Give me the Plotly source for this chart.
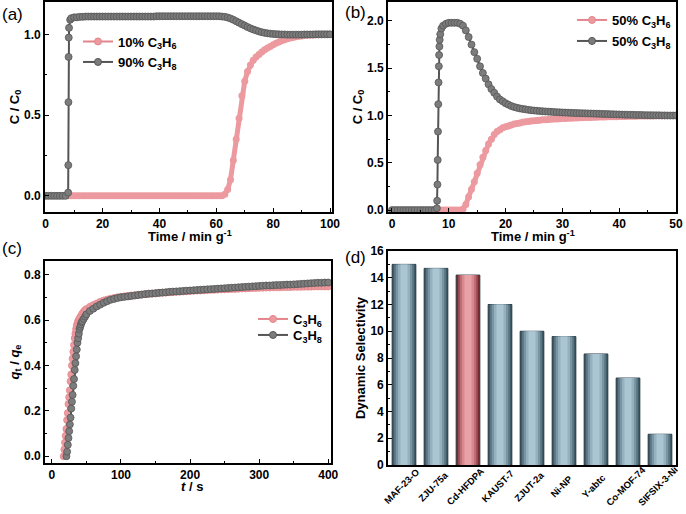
import plotly.graph_objects as go
from plotly.subplots import make_subplots

# ---- (a) breakthrough, 10/90 C3H6/C3H8 ----
a_time_c3h6 = [8, 9, 10, 11, 12, 13, 14, 15, 16, 17,
               18, 19, 20, 21, 22, 23, 24, 25, 26, 27,
               28, 29, 30, 31, 32, 33, 34, 35, 36, 37,
               38, 39, 40, 41, 42, 43, 44, 45, 46, 47,
               48, 49, 50, 51, 52, 53, 54, 55, 56, 57,
               58, 59, 60, 61, 62, 63, 64, 65, 66, 67,
               68, 69, 70, 71, 72, 73, 74, 75, 76, 77,
               78, 79, 80, 81, 82, 83, 84, 85, 86, 87,
               88, 89, 90, 91, 92, 93, 94, 95, 96, 97,
               98, 99, 100]
a_c3h6 = [0, 0, 0, 0, 0, 0, 0, 0, 0, 0,
          0, 0, 0, 0, 0, 0, 0, 0, 0, 0,
          0, 0, 0, 0, 0, 0, 0, 0, 0, 0,
          0, 0, 0, 0, 0, 0, 0, 0, 0, 0,
          0, 0, 0, 0, 0, 0, 0, 0, 0, 0,
          0, 0, 0, 0, 0, 0.01, 0.04, 0.10, 0.22, 0.35,
          0.48, 0.62, 0.71, 0.77, 0.81, 0.84, 0.86, 0.875, 0.89, 0.905,
          0.915, 0.925, 0.935, 0.945, 0.953, 0.96, 0.966, 0.972, 0.977, 0.981,
          0.985, 0.988, 0.99, 0.992, 0.994, 0.995, 0.996, 0.997, 0.998, 0.998,
          0.999, 0.999, 1.0]

a_time_c3h8 = [0, 1, 2, 3, 4, 5, 6, 7,
               7.9, 7.95, 8.0, 8.05, 8.1, 8.2, 8.6,
               9, 10, 11, 12, 13, 14, 15, 16, 17, 18,
               19, 20, 21, 22, 23, 24, 25, 26, 27, 28,
               29, 30, 31, 32, 33, 34, 35, 36, 37, 38,
               39, 40, 41, 42, 43, 44, 45, 46, 47, 48,
               49, 50, 51, 52, 53, 54, 55, 56, 57, 58,
               59, 60, 61, 62, 63, 64, 65, 66, 67, 68,
               69, 70, 71, 72, 73, 74, 75, 76, 77, 78,
               79, 80, 81, 82, 83, 84, 85, 86, 87, 88,
               89, 90, 91, 92, 93, 94, 95, 96, 97, 98,
               99, 100]
a_c3h8 = [0, 0, 0, 0, 0, 0, 0, 0,
          0.02, 0.19, 0.58, 0.86, 0.98, 1.04, 1.09,
          1.10, 1.105, 1.105, 1.108, 1.108, 1.11, 1.11, 1.11, 1.11, 1.11,
          1.11, 1.11, 1.11, 1.11, 1.11, 1.11, 1.11, 1.11, 1.11, 1.11,
          1.11, 1.11, 1.11, 1.11, 1.11, 1.11, 1.11, 1.11, 1.11, 1.11,
          1.112, 1.112, 1.112, 1.112, 1.112, 1.112, 1.112, 1.112, 1.112, 1.112,
          1.112, 1.112, 1.112, 1.112, 1.112, 1.112, 1.112, 1.112, 1.112, 1.112,
          1.112, 1.112, 1.112, 1.11, 1.108, 1.104, 1.098, 1.09, 1.081, 1.072,
          1.063, 1.054, 1.045, 1.037, 1.03, 1.024, 1.018, 1.013, 1.009, 1.006,
          1.004, 1.002, 1.001, 1.0, 0.999, 0.999, 0.998, 0.998, 0.998, 0.998,
          0.998, 0.998, 0.999, 0.999, 0.999, 0.999, 1.0, 1.0, 1.0, 1.0,
          1.0, 1.0]

# ---- (b) breakthrough, 50/50 ----
b_time_c3h6 = [8.5, 9, 9.5, 10, 10.5, 11, 11.5, 12, 12.5, 13,
               13.5, 14, 14.5, 15, 15.5, 16, 16.5, 17, 17.5, 18,
               18.5, 19, 19.5, 20, 20.5, 21, 21.5, 22, 22.5, 23,
               23.5, 24, 24.5, 25, 25.5, 26, 26.5, 27, 27.5, 28,
               28.5, 29, 29.5, 30, 30.5, 31, 31.5, 32, 32.5, 33,
               33.5, 34, 34.5, 35, 35.5, 36, 36.5, 37, 37.5, 38,
               38.5, 39, 39.5, 40, 40.5, 41, 41.5, 42, 42.5, 43,
               43.5, 44, 44.5, 45, 45.5, 46, 46.5, 47, 47.5, 48,
               48.5, 49, 49.5, 50]
b_c3h6 = [0, 0, 0, 0, 0, 0, 0, 0, 0.01, 0.06,
          0.14, 0.22, 0.30, 0.39, 0.48, 0.56, 0.63, 0.70, 0.75, 0.80,
          0.83, 0.85, 0.87, 0.88, 0.89, 0.90, 0.91, 0.915, 0.922, 0.928,
          0.933, 0.937, 0.941, 0.945, 0.948, 0.951, 0.954, 0.956, 0.958, 0.96,
          0.962, 0.964, 0.966, 0.968, 0.969, 0.971, 0.972, 0.974, 0.975, 0.976,
          0.977, 0.978, 0.979, 0.98, 0.981, 0.982, 0.983, 0.984, 0.985, 0.986,
          0.987, 0.987, 0.988, 0.989, 0.99, 0.99, 0.991, 0.992, 0.992, 0.993,
          0.994, 0.994, 0.995, 0.995, 0.996, 0.996, 0.997, 0.997, 0.998, 0.998,
          0.999, 0.999, 1.0, 1.0]

b_time_c3h8 = [0, 0.5, 1, 1.5, 2, 2.5, 3, 3.5, 4, 4.5,
               5, 5.5, 6, 6.5, 7, 7.5,
               7.9, 7.95, 8.0, 8.05, 8.1, 8.15, 8.2, 8.25, 8.3, 8.35, 8.4, 8.5, 8.7,
               9, 9.5, 10, 10.5, 11, 11.5, 12, 12.5, 13, 13.5,
               14, 14.5, 15, 15.5, 16, 16.5, 17, 17.5, 18, 18.5,
               19, 19.5, 20, 20.5, 21, 21.5, 22, 22.5, 23, 23.5,
               24, 24.5, 25, 25.5, 26, 26.5, 27, 27.5, 28, 28.5,
               29, 29.5, 30, 30.5, 31, 31.5, 32, 32.5, 33, 33.5,
               34, 34.5, 35, 35.5, 36, 36.5, 37, 37.5, 38, 38.5,
               39, 39.5, 40, 40.5, 41, 41.5, 42, 42.5, 43, 43.5,
               44, 44.5, 45, 45.5, 46, 46.5, 47, 47.5, 48, 48.5,
               49, 49.5, 50]
b_c3h8 = [0, 0, 0, 0, 0, 0, 0, 0, 0, 0,
          0, 0, 0, 0, 0, 0,
          0.02, 0.10, 0.27, 0.53, 0.83, 1.12, 1.35, 1.52, 1.64, 1.73, 1.80, 1.86, 1.92,
          1.95, 1.97, 1.98, 1.98, 1.98, 1.98, 1.97, 1.95, 1.90, 1.83,
          1.75, 1.67, 1.60, 1.52, 1.45, 1.39, 1.33, 1.28, 1.24, 1.20,
          1.17, 1.15, 1.13, 1.115, 1.10, 1.09, 1.082, 1.075, 1.07, 1.065,
          1.06, 1.056, 1.053, 1.05, 1.047, 1.045, 1.043, 1.041, 1.039, 1.037,
          1.035, 1.034, 1.032, 1.031, 1.03, 1.028, 1.027, 1.026, 1.025, 1.024,
          1.023, 1.022, 1.021, 1.02, 1.019, 1.018, 1.017, 1.016, 1.015, 1.014,
          1.013, 1.012, 1.011, 1.01, 1.009, 1.008, 1.008, 1.007, 1.006, 1.006,
          1.005, 1.004, 1.004, 1.003, 1.003, 1.002, 1.002, 1.001, 1.001, 1.0,
          1.0, 1.0, 1.0]

# ---- (c) adsorption kinetics ----
c_time_c3h6 = [17, 18, 19, 20, 21, 22, 23, 24, 25, 26,
               27, 28, 29, 30, 31, 32, 33, 34, 35, 36,
               37, 38, 39, 40, 42, 44, 46, 48, 50,
               55, 60, 65, 70, 75, 80, 85,
               90, 95, 100, 105, 110, 115, 120, 125, 130, 135,
               140, 145, 150, 155, 160, 165, 170, 175, 180, 185,
               190, 195, 200, 205, 210, 215, 220, 225, 230, 235,
               240, 245, 250, 255, 260, 265, 270, 275, 280, 285,
               290, 295, 300, 305, 310, 315, 320, 325, 330, 335,
               340, 345, 350, 355, 360, 365, 370, 375, 380, 385,
               390, 395, 400]
c_c3h6 = [0.0, 0.03, 0.06, 0.09, 0.12, 0.16, 0.19, 0.23, 0.26, 0.29,
          0.33, 0.36, 0.40, 0.43, 0.46, 0.49, 0.52, 0.54, 0.56, 0.575,
          0.585, 0.595, 0.60, 0.607, 0.618, 0.628, 0.636, 0.643, 0.648,
          0.658, 0.666, 0.673, 0.68, 0.686, 0.69, 0.694,
          0.697, 0.700, 0.702, 0.704, 0.706, 0.708, 0.709, 0.711, 0.712, 0.714,
          0.715, 0.716, 0.718, 0.719, 0.720, 0.721, 0.722, 0.723, 0.724, 0.725,
          0.726, 0.727, 0.728, 0.729, 0.730, 0.730, 0.731, 0.732, 0.733, 0.733,
          0.734, 0.735, 0.735, 0.736, 0.737, 0.737, 0.738, 0.739, 0.739, 0.740,
          0.741, 0.741, 0.742, 0.742, 0.743, 0.743, 0.744, 0.744, 0.744, 0.745,
          0.745, 0.745, 0.746, 0.746, 0.746, 0.747, 0.747, 0.747, 0.748, 0.748,
          0.748, 0.748, 0.748]

c_time_c3h8 = [21, 22, 23, 24, 25, 26, 27, 28, 29, 30,
               31, 32, 33, 34, 35, 36, 37, 38, 39, 40,
               41, 42, 43, 44, 46, 48, 50,
               55, 60, 65, 70, 75, 80, 85,
               90, 95, 100, 105, 110, 115, 120, 125, 130, 135,
               140, 145, 150, 155, 160, 165, 170, 175, 180, 185,
               190, 195, 200, 205, 210, 215, 220, 225, 230, 235,
               240, 245, 250, 255, 260, 265, 270, 275, 280, 285,
               290, 295, 300, 305, 310, 315, 320, 325, 330, 335,
               340, 345, 350, 355, 360, 365, 370, 375, 380, 385,
               390, 395, 400]
c_c3h8 = [0.0, 0.02, 0.05, 0.08, 0.11, 0.14, 0.17, 0.21, 0.24, 0.27,
          0.31, 0.34, 0.38, 0.41, 0.44, 0.47, 0.50, 0.52, 0.54, 0.56,
          0.57, 0.58, 0.59, 0.595, 0.605, 0.615, 0.625,
          0.64, 0.65, 0.66, 0.668, 0.676, 0.683, 0.689,
          0.693, 0.697, 0.700, 0.702, 0.704, 0.706, 0.708, 0.710, 0.712, 0.714,
          0.716, 0.717, 0.718, 0.720, 0.721, 0.722, 0.724, 0.725, 0.726, 0.727,
          0.728, 0.729, 0.730, 0.731, 0.732, 0.733, 0.734, 0.735, 0.736, 0.737,
          0.738, 0.739, 0.740, 0.741, 0.742, 0.743, 0.744, 0.745, 0.746, 0.747,
          0.748, 0.749, 0.750, 0.751, 0.752, 0.752, 0.753, 0.754, 0.754, 0.755,
          0.756, 0.756, 0.757, 0.758, 0.759, 0.760, 0.761, 0.762, 0.763, 0.764,
          0.764, 0.765, 0.765]

# ---- (d) dynamic selectivity ----
materials = ["MAF-23-O", "ZJU-75a", "Cd-HFDPA", "KAUST-7", "ZJUT-2a",
             "Ni-NP", "Y-abtc", "Co-MOF-74", "SIFSIX-3-Ni"]
selectivity = [15.0, 14.7, 14.2, 12.0, 10.0, 9.6, 8.3, 6.5, 2.3]
highlight = "Cd-HFDPA"

for xs, ys in [(a_time_c3h6, a_c3h6), (a_time_c3h8, a_c3h8), (b_time_c3h6, b_c3h6),
               (b_time_c3h8, b_c3h8), (c_time_c3h6, c_c3h6), (c_time_c3h8, c_c3h8)]:
    assert len(xs) == len(ys), (len(xs), len(ys))

FONT = "Liberation Sans"
PINK, PINK_EDGE = "#ec9a9f", "#e3868c"
GRAY, GRAY_EDGE = "#7c7c7c", "#555555"
W, H = 686, 514

fig = make_subplots(rows=2, cols=2)


def add_curve(x, y, fill, edge, row, col, band=2.0, mline=0.8):
    fig.add_trace(go.Scatter(
        x=x, y=y, mode="lines+markers", showlegend=False, hoverinfo="skip",
        line=dict(color=edge, width=band),
        marker=dict(symbol="circle", size=7, color=fill, line=dict(color=edge, width=mline)),
    ), row=row, col=col)


def add_key(name, fill, edge, legend, row, col):
    # legend-only entry (thin line + circle), like the original keys
    fig.add_trace(go.Scatter(
        x=[None], y=[None], name=name, mode="lines+markers", legend=legend,
        line=dict(color=edge, width=2),
        marker=dict(symbol="circle", size=7, color=fill, line=dict(color=edge, width=1)),
    ), row=row, col=col)


add_curve(a_time_c3h6, a_c3h6, PINK, PINK, 1, 1, band=5, mline=0)
add_curve(a_time_c3h8, a_c3h8, GRAY, GRAY_EDGE, 1, 1)
add_curve(b_time_c3h6, b_c3h6, PINK, PINK, 1, 2, band=5, mline=0)
add_curve(b_time_c3h8, b_c3h8, GRAY, GRAY_EDGE, 1, 2)
add_curve(c_time_c3h6, c_c3h6, PINK, PINK_EDGE, 2, 1)
add_curve(c_time_c3h8, c_c3h8, GRAY, GRAY_EDGE, 2, 1)

add_key("10% C<sub>3</sub>H<sub>6</sub>", PINK, PINK_EDGE, "legend", 1, 1)
add_key("90% C<sub>3</sub>H<sub>8</sub>", GRAY, GRAY_EDGE, "legend2", 1, 1)
add_key("50% C<sub>3</sub>H<sub>6</sub>", PINK, PINK_EDGE, "legend3", 1, 2)
add_key("50% C<sub>3</sub>H<sub>8</sub>", GRAY, GRAY_EDGE, "legend4", 1, 2)
add_key("C<sub>3</sub>H<sub>6</sub>", PINK, PINK_EDGE, "legend5", 2, 1)
add_key("C<sub>3</sub>H<sub>8</sub>", GRAY, GRAY_EDGE, "legend6", 2, 1)

# cylinder-like shading: stacked bars of decreasing width, dark edges -> light centre
layer_width = [0.74, 0.64, 0.52, 0.38, 0.22]
blue_shades = ["#3a525f", "#587482", "#7894a3", "#95b0be", "#abc6d3"]
red_shades = ["#6a2930", "#97464e", "#bf6b72", "#d8898f", "#e7a2a7"]
for i, w in enumerate(layer_width):
    colors = [red_shades[i] if m == highlight else blue_shades[i] for m in materials]
    fig.add_trace(go.Bar(
        x=materials, y=selectivity, width=w, showlegend=False, hoverinfo="skip",
        marker=dict(color=colors, line=dict(color="#2a3a42" if i == 0 else colors, width=1 if i == 0 else 0)),
    ), row=2, col=2)

# rotated category labels, centred under each bar
for m in materials:
    fig.add_annotation(text=m, x=m, y=0, xref="x4", yref="y4", textangle=-45,
                       xanchor="center", yanchor="middle", xshift=-3, yshift=-21,
                       showarrow=False,
                       font=dict(family=FONT, size=9.5, color="black", weight="bold"))

tick_font = dict(family=FONT, size=12, color="black", weight="bold")
title_font = dict(family=FONT, size=13, color="black", weight="bold")


def axis(px0, px1, vertical, rng, dtick, minor_dtick, **kw):
    if vertical:
        dom = [1 - px1 / H, 1 - px0 / H]
    else:
        dom = [px0 / W, px1 / W]
    d = dict(domain=dom, range=rng, dtick=dtick, showline=True, linecolor="black",
             linewidth=1.6, mirror=True, ticks="inside", ticklen=4, tickwidth=1.3,
             tickcolor="black", showgrid=False, zeroline=False, automargin=False,
             tickfont=tick_font, title_font=title_font, title_standoff=2,
             minor=dict(ticks="inside", ticklen=2.5, tickwidth=1, tickcolor="black",
                        dtick=minor_dtick, showgrid=False))
    d.update(kw)
    return d


fig.update_layout(
    width=W, height=H, margin=dict(l=0, r=0, t=0, b=0),
    template="none", paper_bgcolor="white", plot_bgcolor="white",
    barmode="overlay", font=dict(family=FONT, color="black"),
    xaxis=axis(45, 332, False, [-0.25, 100.7], 20, 10, tick0=0),
    yaxis=axis(2, 212, True, [-0.1, 1.2], 0.5, 0.25, tick0=0, tickformat=".1f",
               title_text="C / C<sub>0</sub>"),
    xaxis2=axis(388, 676, False, [-0.7, 50], 10, 5, tick0=0),
    yaxis2=axis(2, 212, True, [-0.02, 2.2], 0.5, 0.25, tick0=0, tickformat=".1f",
                title_text="C / C<sub>0</sub>"),
    xaxis3=axis(45, 331, False, [-10, 404], 100, 50, tick0=0),
    yaxis3=axis(261, 463, True, [-0.03, 0.86], 0.2, 0.1, tick0=0, tickformat=".1f",
                title_text="<i>q</i><sub>t</sub> / <i>q</i><sub>e</sub>"),
    xaxis4=axis(388, 676, False, [-0.5, 8.5], None, None, ticks="",
                showticklabels=False, minor=dict(ticks="")),
    yaxis4=axis(251, 465, True, [0, 16], 2, 1, tick0=0,
                title_text="Dynamic Selectivity"),
)

# x-axis titles sit tight against the tick labels, as in the original
for text, px, py in [("Time / min g<sup>-1</sup>", 190, 236),
                     ("Time / min g<sup>-1</sup>", 533, 236),
                     ("<i>t</i> / s", 192, 486)]:
    fig.add_annotation(text=text, x=px / W, y=1 - py / H, xref="paper", yref="paper",
                       xanchor="center", yanchor="middle", showarrow=False, font=title_font)

legend_style = dict(bgcolor="rgba(0,0,0,0)", borderwidth=0, xanchor="left", yanchor="middle",
                    font=dict(family=FONT, size=13, color="black", weight="bold"),
                    itemwidth=30)
for key, lx, ly in [("legend", 78, 41.5), ("legend2", 78, 62), ("legend3", 572, 20),
                    ("legend4", 572, 41), ("legend5", 253, 319), ("legend6", 253, 335)]:
    fig.update_layout({key: dict(x=lx / W, y=1 - ly / H, **legend_style)})

for label, px, py in [("(a)", 0, 14), ("(b)", 343, 12), ("(c)", 0, 248), ("(d)", 343, 257)]:
    fig.add_annotation(text=label, x=px / W, y=1 - py / H, xref="paper", yref="paper",
                       xanchor="left", yanchor="middle", showarrow=False,
                       font=dict(family=FONT, size=17, color="black"))

# drop the browser's default 8px body margin so the figure sits at the window origin
fig.write_html("out.html", config={"displayModeBar": False},
               post_script="document.body.style.margin='0px';")
